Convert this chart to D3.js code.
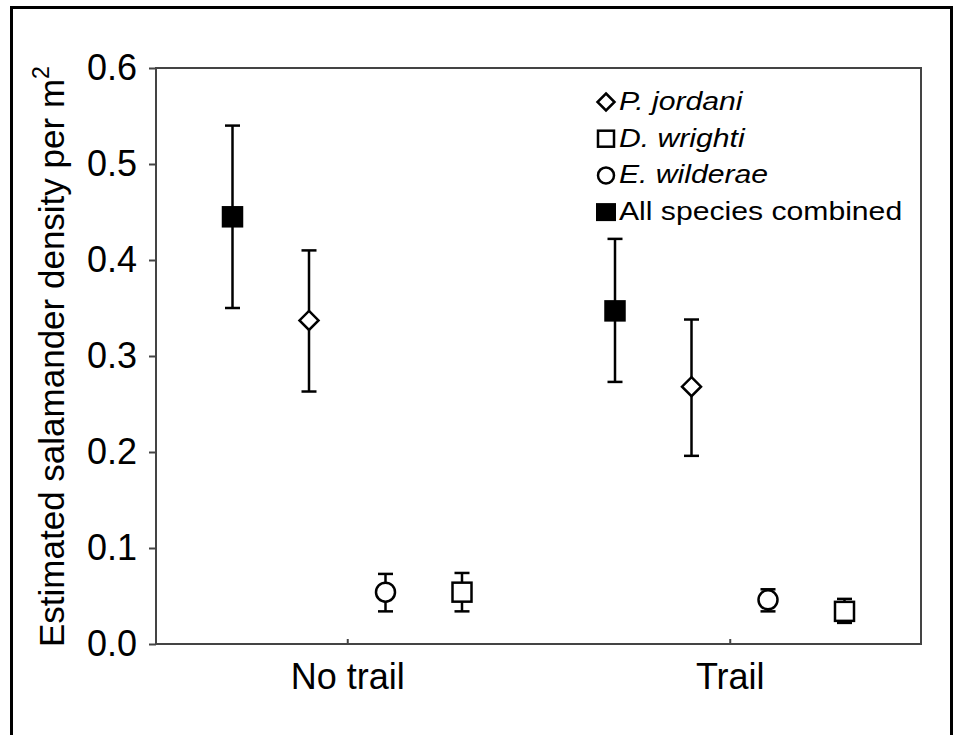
<!DOCTYPE html>
<html>
<head>
<meta charset="utf-8">
<script src="https://cdn.jsdelivr.net/npm/d3@7"></script>
<style>
  body { margin: 0; background: #fff; }
  svg { display: block; font-family: "Liberation Sans", Arial, sans-serif; }
</style>
</head>
<body>
<div id="chart"></div>
<script>
// ---- data ----
const categories = ["No trail", "Trail"];
const seriesNames = ["All species combined", "P. jordani", "E. wilderae", "D. wrighti"];
const legendOrder = ["P. jordani", "D. wrighti", "E. wilderae", "All species combined"];

const allMean  = [0.445, 0.347];
const allLow   = [0.350, 0.273];
const allHigh  = [0.540, 0.422];

const pjMean   = [0.337, 0.268];
const pjLow    = [0.263, 0.196];
const pjHigh   = [0.410, 0.338];

const ewMean   = [0.054, 0.046];
const ewLow    = [0.034, 0.034];
const ewHigh   = [0.073, 0.057];

const dwMean   = [0.054, 0.034];
const dwLow    = [0.034, 0.022];
const dwHigh   = [0.074, 0.047];

const yTicks = [0, 0.1, 0.2, 0.3, 0.4, 0.5, 0.6];

// series table built from the arrays above
const seriesMeta = {
    "All species combined": { mean: allMean, low: allLow, high: allHigh, shape: "square", fill: "#000", offset: -0.3 },
    "P. jordani":           { mean: pjMean,  low: pjLow,  high: pjHigh,  shape: "diamond", fill: "#fff", offset: -0.1 },
    "E. wilderae":          { mean: ewMean,  low: ewLow,  high: ewHigh,  shape: "circle", fill: "#fff", offset: 0.1 },
    "D. wrighti":           { mean: dwMean,  low: dwLow,  high: dwHigh,  shape: "square", fill: "#fff", offset: 0.3 }
};

const points = [];
seriesNames.forEach(name => {
    const s = seriesMeta[name];
    categories.forEach((c, i) => {
        points.push({ name, cat: i + 1, mean: s.mean[i], low: s.low[i], high: s.high[i],
                      shape: s.shape, fill: s.fill, offset: s.offset });
    });
});

// ---- svg ----
const width = 959, height = 735;
const svg = d3.select("#chart").append("svg")
    .attr("width", width)
    .attr("height", height);

// outer frame (bottom edge falls outside the picture)
svg.append("rect")
    .attr("x", 11.5).attr("y", 7.5)
    .attr("width", 940).attr("height", 760)
    .attr("fill", "none")
    .attr("stroke", "#000")
    .attr("stroke-width", 3);

const plot = { left: 156, right: 921, top: 68, bottom: 644 };

// ---- scales ----
const x = d3.scaleLinear()
    .domain([0.5, 2.5])
    .range([plot.left, plot.right]);

const y = d3.scaleLinear()
    .domain([0, 0.6])
    .range([plot.bottom, plot.top]);

// ---- axes ----
const yAxis = svg.append("g")
    .attr("transform", `translate(${plot.left},0)`)
    .call(d3.axisLeft(y).tickValues(yTicks).tickFormat(d3.format(".1f"))
        .tickSizeInner(7).tickSizeOuter(0).tickPadding(12));
yAxis.select(".domain").remove();
yAxis.selectAll("line").attr("stroke", "#444").attr("stroke-width", 2);
yAxis.selectAll("text")
    .attr("font-size", 36)
    .attr("font-family", "Liberation Sans, Arial, sans-serif")
    .attr("fill", "#000");

const xAxis = svg.append("g")
    .attr("transform", `translate(0,${plot.bottom})`)
    .call(d3.axisBottom(x).tickValues([1, 2]).tickFormat(d => categories[d - 1])
        .tickSizeInner(-5).tickSizeOuter(0).tickPadding(19));
xAxis.select(".domain").remove();
xAxis.selectAll("line").attr("stroke", "#444").attr("stroke-width", 2);
xAxis.selectAll("text")
    .attr("font-size", 36)
    .attr("font-family", "Liberation Sans, Arial, sans-serif")
    .attr("fill", "#000");

// plot box
svg.append("rect")
    .attr("x", plot.left).attr("y", plot.top)
    .attr("width", plot.right - plot.left)
    .attr("height", plot.bottom - plot.top)
    .attr("fill", "none")
    .attr("stroke", "#444")
    .attr("stroke-width", 2);

// y axis title
const yTitle = svg.append("text")
    .attr("transform", "rotate(-90)")
    .attr("x", -647)
    .attr("y", 64)
    .attr("font-size", 35)
    .attr("fill", "#000");
yTitle.append("tspan").text("Estimated salamander density per m");
yTitle.append("tspan").attr("font-size", 23).attr("dy", -15).text("2");

// ---- symbols ----
function drawSymbol(sel, shape, fill, size) {
    const h = size / 2;
    if (shape === "square") {
        sel.append("rect")
            .attr("x", -h).attr("y", -h)
            .attr("width", size).attr("height", size)
            .attr("fill", fill).attr("stroke", "#000").attr("stroke-width", 2.5);
    } else if (shape === "diamond") {
        sel.append("path")
            .attr("d", `M0,${-h}L${h},0L0,${h}L${-h},0Z`)
            .attr("fill", fill).attr("stroke", "#000").attr("stroke-width", 2.5);
    } else {
        sel.append("circle")
            .attr("r", h)
            .attr("fill", fill).attr("stroke", "#000").attr("stroke-width", 2.5);
    }
}

// ---- error bars + points ----
const capW = 15;
const pg = svg.append("g").selectAll("g.pt")
    .data(points)
    .join("g")
    .attr("class", "pt");

pg.append("line")
    .attr("x1", d => x(d.cat + d.offset)).attr("x2", d => x(d.cat + d.offset))
    .attr("y1", d => y(d.low)).attr("y2", d => y(d.high))
    .attr("stroke", "#000").attr("stroke-width", 2.5);

pg.append("line")
    .attr("x1", d => x(d.cat + d.offset) - capW / 2).attr("x2", d => x(d.cat + d.offset) + capW / 2)
    .attr("y1", d => y(d.high)).attr("y2", d => y(d.high))
    .attr("stroke", "#000").attr("stroke-width", 2.5);

pg.append("line")
    .attr("x1", d => x(d.cat + d.offset) - capW / 2).attr("x2", d => x(d.cat + d.offset) + capW / 2)
    .attr("y1", d => y(d.low)).attr("y2", d => y(d.low))
    .attr("stroke", "#000").attr("stroke-width", 2.5);

pg.each(function(d) {
    const g = d3.select(this).append("g")
        .attr("transform", `translate(${x(d.cat + d.offset)},${y(d.mean)})`);
    const sz = d.shape === "diamond" ? 19 : (d.shape === "circle" ? 19 : 19);
    drawSymbol(g, d.shape, d.fill, sz);
});

// ---- legend ----
const legend = svg.append("g")
    .attr("transform", "translate(606,110)");

legendOrder.forEach((name, i) => {
    const s = seriesMeta[name];
    const row = legend.append("g")
        .attr("transform", `translate(0,${i * 36.7})`);

    const sym = row.append("g").attr("transform", "translate(0,-8)");
    if (s.shape === "square" && s.fill === "#000") {
        sym.append("rect")
            .attr("x", -10).attr("y", -9)
            .attr("width", 20).attr("height", 18)
            .attr("fill", "#000");
    } else {
        drawSymbol(sym, s.shape, s.fill, s.shape === "diamond" ? 17 : 16);
    }

    row.append("text")
        .attr("transform", "translate(13,0) scale(1.16,1)")
        .attr("font-size", 26)
        .attr("font-style", name === "All species combined" ? "normal" : "italic")
        .attr("fill", "#000")
        .text(name);
});
</script>
</body>
</html>
